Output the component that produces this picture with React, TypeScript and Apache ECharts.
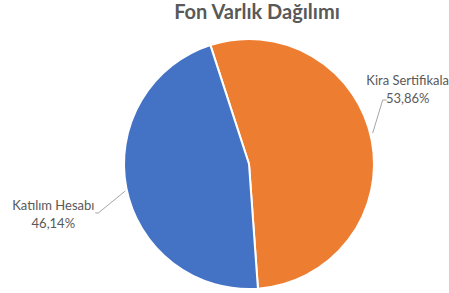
import React, { useEffect, useRef } from "react";
import * as echarts from "echarts";

const titleText = "Fon Varlık Dağılımı";
const categories = ["Kira Sertifikala", "Katılım Hesabı"];
const values = [53.86, 46.14];
const colors = ["#ED7D31", "#4472C4"];

export default function App() {
  const ref = useRef<HTMLDivElement>(null);
  useEffect(() => {
    if (!ref.current) return;
    const chart = echarts.init(ref.current, undefined, { renderer: "svg" });
    chart.setOption({
      animation: false,
      backgroundColor: "#ffffff",
      title: {
        text: titleText,
        left: 252,
        textAlign: "center",
        top: -4,
        textStyle: { fontFamily: "Lato", fontSize: 20, fontWeight: "bold", color: "#595959" },
      },
      series: [
        {
          type: "pie",
          center: [249, 164],
          radius: 125,
          startAngle: 108,
          clockwise: true,
          data: categories.map((n, i) => ({ name: n, value: values[i], itemStyle: { color: colors[i] } })),
          itemStyle: { borderColor: "#ffffff", borderWidth: 2 },
          label: {
            show: true,
            position: "outside",
            width: 86,
            overflow: "none",
            edgeDistance: 0,
            bleedMargin: 0,
            formatter: (p: any) => `{a|${p.name}}\n{a|${p.value.toFixed(2).replace(".", ",")}%}`,
            rich: {
              a: { fontFamily: "Lato", fontSize: 13, color: "#595959", lineHeight: 18, align: "center" },
            },
          },
          labelLayout: (params: any) => {
            const p0 = params.labelLinePoints ? params.labelLinePoints[0] : [0, 0];
            if (params.dataIndex === 0) {
              const start = [p0[0] + 1, p0[1] - 7];
              const elbow = [start[0] + 10, start[1] - 33];
              const end = [elbow[0] + 4, elbow[1]];
              return {
                x: end[0] + 21,
                y: end[1] - 11,
                align: "center",
                verticalAlign: "middle",
                labelLinePoints: [start, elbow, end],
              };
            }
            const start = [p0[0] - 1, p0[1] + 3];
            const elbow = [start[0] - 27, start[1] + 22];
            const end = [elbow[0] - 3, elbow[1]];
            return {
              x: end[0] - 42,
              y: end[1] + 1,
              align: "center",
              verticalAlign: "middle",
              labelLinePoints: [start, elbow, end],
            };
          },
          labelLine: { show: true, length: 14, length2: 8, lineStyle: { color: "#A6A6A6", width: 1 } },
        },
      ],
    });
    return () => chart.dispose();
  }, []);
  return <div ref={ref} style={{ position: "fixed", left: 0, top: 0, width: 449, height: 293 }} />;
}
